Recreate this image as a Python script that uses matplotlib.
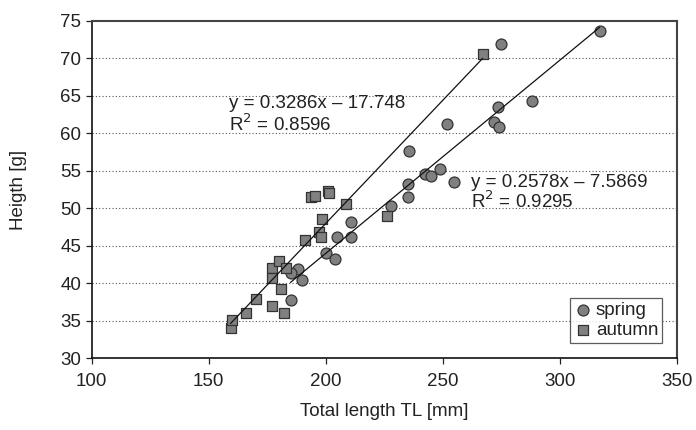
import numpy as np
import matplotlib
matplotlib.use("Agg")
import matplotlib.pyplot as plt

plt.rcParams['font.family'] = ['Liberation Sans', 'DejaVu Sans']

# spring (circles)
spring_tl = [317, 275, 288, 273.6, 272, 274, 252, 235.7, 242.5, 245, 249, 255,
             235, 235, 228, 211, 211, 205, 200, 204, 188, 185, 190, 185]
spring_h = [73.6, 71.9, 64.3, 63.5, 61.5, 60.8, 61.3, 57.6, 54.6, 54.3, 55.3, 53.5,
            53.3, 51.5, 50.3, 48.1, 46.2, 46.1, 44.0, 43.2, 41.9, 41.3, 40.4, 37.8]

# autumn (squares)
autumn_tl = [159.4, 160, 166, 170, 177, 182, 177, 180, 183, 177, 181, 191,
             197, 198, 198.5, 193.5, 195.5, 201, 201.3, 208.5, 226, 267]
autumn_h = [34.0, 35.1, 36.0, 37.9, 37.0, 36.0, 42.0, 43.0, 42.0, 40.7, 39.2, 45.8,
            46.8, 46.1, 48.5, 51.5, 51.6, 52.3, 52.0, 50.5, 49.0, 70.6]

spring_fit = (0.2578, -7.5869, 0.9295)
autumn_fit = (0.3286, -17.748, 0.8596)

fig = plt.figure(figsize=(6.96, 4.30), dpi=100)
ax = fig.add_axes([0.1318, 0.1674, 0.8405, 0.7838])

fs = 13.5
txt = '#222222'

for y in range(35, 75, 5):
    ax.axhline(y, color='#555555', lw=0.8, ls=(0, (1, 2)), zorder=0)

# trend lines over each series' range
for tl, (a, b, _) in [(spring_tl, spring_fit), (autumn_tl, autumn_fit)]:
    xs = np.array([min(tl), max(tl)])
    ax.plot(xs, a * xs + b, color='#111111', lw=0.9, zorder=3)

ax.scatter(spring_tl, spring_h, s=62, marker='o', facecolor='#808080',
           edgecolor='#333333', linewidth=0.9, zorder=2, label='spring')
ax.scatter(autumn_tl, autumn_h, s=56, marker='s', facecolor='#808080',
           edgecolor='#333333', linewidth=0.9, zorder=2, label='autumn')

ax.text(158.7, 64.0, 'y = 0.3286x – 17.748', fontsize=fs, color=txt, va='center')
ax.text(158.7, 61.2, 'R$^2$ = 0.8596', fontsize=fs, color=txt, va='center')
ax.text(262.2, 53.5, 'y = 0.2578x – 7.5869', fontsize=fs, color=txt, va='center')
ax.text(262.2, 50.9, 'R$^2$ = 0.9295', fontsize=fs, color=txt, va='center')

ax.set_xlim(100, 350)
ax.set_ylim(30, 75)
ax.set_xticks(range(100, 351, 50))
ax.set_yticks(range(30, 76, 5))
ax.tick_params(labelsize=fs, colors=txt, length=4, width=0.9, direction='out')
ax.tick_params(axis='x', pad=7)

for side in ['left', 'bottom']:
    ax.spines[side].set_color('#111111')
    ax.spines[side].set_linewidth(1.2)
for side in ['top', 'right']:
    ax.spines[side].set_color('#444444')
    ax.spines[side].set_linewidth(1.5)

ax.set_xlabel('Total length TL [mm]', fontsize=fs, color=txt, labelpad=9)
ax.set_ylabel('Heigth [g]', fontsize=fs, color=txt, labelpad=24)

leg = ax.legend(loc='lower right', bbox_to_anchor=(0.975, 0.045), fontsize=fs,
                frameon=True, fancybox=False, edgecolor='#333333',
                handletextpad=0.2, borderpad=0.2, labelspacing=0.15,
                handlelength=1.0, borderaxespad=0.0)
leg.get_frame().set_linewidth(0.9)
for t in leg.get_texts():
    t.set_color(txt)

fig.savefig('out.png', dpi=100)
